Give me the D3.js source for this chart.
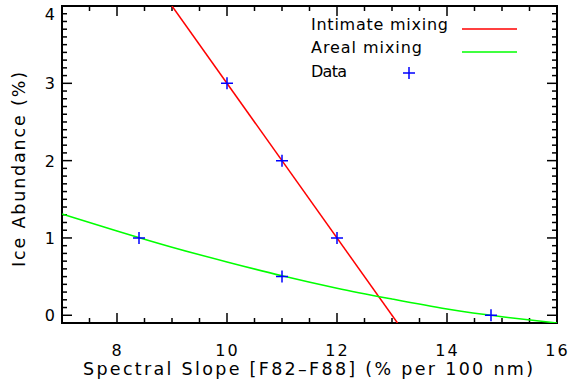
<!DOCTYPE html>
<html><head><meta charset="utf-8">
<script src="https://cdn.jsdelivr.net/npm/d3@7/dist/d3.min.js"></script>
<style>
body{margin:0;background:#fff;}
text{font-family:"DejaVu Sans",sans-serif;fill:#000;}
</style></head><body>
<svg id="c" width="571" height="386"></svg>
<script>
// Data
const dataX = [8.4, 11, 14.8, 10, 11, 12];
const dataY = [1, 0.5, 0, 3, 2, 1];
const intimateX = [9, 13.1];
const intimateY = [4, -0.1];
const arealX = [7, 8, 9, 10, 11, 12, 13, 14, 15, 16];
const arealY = [1.31, 1.09, 0.88, 0.69, 0.51, 0.35, 0.21, 0.08, -0.02, -0.10];
const xTicks = [8, 10, 12, 14, 16];
const yTicks = [0, 1, 2, 3, 4];
const legendLabels = ["Intimate mixing", "Areal mixing", "Data"];

const svg = d3.select("#c");
const L = 62, R = 557, T = 6, B = 323;
const x = d3.scaleLinear().domain([7, 16]).range([L, R]);
const y = d3.scaleLinear().domain([-0.1, 4]).range([B, T]);

svg.append("clipPath").attr("id","clip").append("rect")
  .attr("x", L).attr("y", T).attr("width", R-L).attr("height", B-T);

// ticks
const g = svg.append("g");
const xMinor = d3.range(7, 16.001, 0.5);
const yMinor = d3.range(-0.1, 4.0001, 0.1).map(v => Math.round(v*10)/10);
function tick(x1,y1,x2,y2){ g.append("line").attr("x1",x1).attr("y1",y1).attr("x2",x2).attr("y2",y2).attr("stroke","#000").attr("stroke-width",1.5); }
xMinor.forEach(v => {
  const major = xTicks.includes(v);
  const len = major ? 10 : 5;
  tick(x(v), B, x(v), B - len);
  tick(x(v), T, x(v), T + len);
});
yMinor.forEach(v => {
  const major = yTicks.includes(v);
  const len = major ? 10 : 5;
  tick(L, y(v), L + len, y(v));
  tick(R, y(v), R - len, y(v));
});

// axes using d3 axis for labels
const xAxis = d3.axisBottom(x).tickValues(xTicks).tickFormat(d3.format("d")).tickSize(0).tickPadding(0);
svg.append("g").attr("transform", `translate(0,${B})`).call(xAxis)
  .call(s => { s.select(".domain").remove(); s.selectAll("text").attr("y", 33).attr("dy", null).style("font-size","16px").style("letter-spacing","2px").style("font-family","DejaVu Sans").attr("fill","#000"); });
const yAxis = d3.axisLeft(y).tickValues(yTicks).tickFormat(d3.format("d")).tickSize(0).tickPadding(0);
svg.append("g").attr("transform", `translate(${L},0)`).call(yAxis)
  .call(s => { s.select(".domain").remove(); s.selectAll("text").attr("x", -7).attr("dy", d => d === 4 ? "0.85em" : "0.35em").style("font-size","16px").style("font-family","DejaVu Sans").attr("fill","#000"); });

// frame
svg.append("rect").attr("x", L).attr("y", T).attr("width", R-L).attr("height", B-T)
  .attr("fill","none").attr("stroke","#000").attr("stroke-width",2);

// lines
const lineGen = d3.line().x(d => x(d[0])).y(d => y(d[1]));
svg.append("path").attr("clip-path","url(#clip)")
  .attr("d", lineGen(intimateX.map((v,i)=>[v,intimateY[i]])))
  .attr("fill","none").attr("stroke","#ff0000").attr("stroke-width",1.5);
svg.append("path").attr("clip-path","url(#clip)")
  .attr("d", lineGen.curve(d3.curveNatural)(arealX.map((v,i)=>[v,arealY[i]])))
  .attr("fill","none").attr("stroke","#00ff00").attr("stroke-width",1.5);

// data plus markers
function plus(cx, cy){
  svg.append("path").attr("d", `M${cx-6},${cy}H${cx+6}M${cx},${cy-6}V${cy+6}`)
    .attr("stroke","#0000ff").attr("stroke-width",1.5).attr("fill","none");
}
dataX.forEach((v,i) => plus(x(v), y(dataY[i])));

// legend
const legY = [24, 47, 71];
const legW = [137, 111, 36];
legendLabels.forEach((t,i) => {
  svg.append("text").attr("x", 311).attr("y", legY[i]).attr("dy","0.35em")
    .attr("textLength", legW[i]).attr("lengthAdjust","spacing")
    .style("font-size","16px").text(t);
});
svg.append("line").attr("x1",462).attr("x2",517).attr("y1",29).attr("y2",29).attr("stroke","#ff0000").attr("stroke-width",1.5);
svg.append("line").attr("x1",462).attr("x2",517).attr("y1",52).attr("y2",52).attr("stroke","#00ff00").attr("stroke-width",1.5);
plus(409, 73);

// axis titles
svg.append("text").attr("x", 83).attr("y", 375)
  .attr("textLength", 450).attr("lengthAdjust","spacing")
  .style("font-size","17.5px").text("Spectral Slope [F82\u2013F88] (% per 100 nm)");
svg.append("text").attr("transform","translate(25,267) rotate(-90)")
  .attr("textLength", 195).attr("lengthAdjust","spacing")
  .style("font-size","17.5px").text("Ice Abundance (%)");
</script>
</body></html>
